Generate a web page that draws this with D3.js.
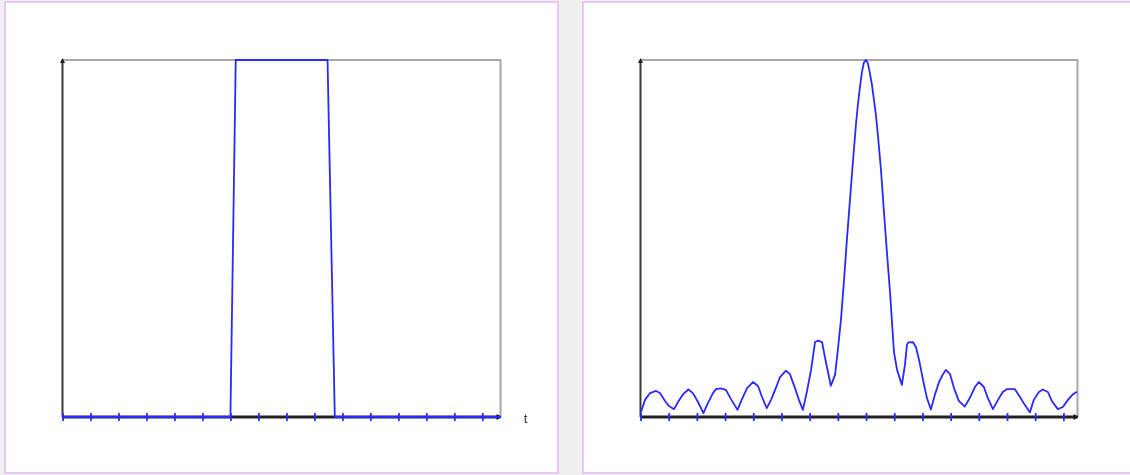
<!DOCTYPE html>
<html>
<head>
<meta charset="utf-8">
<script src="https://cdn.jsdelivr.net/npm/d3@7"></script>
<style>
  body { margin: 0; background: #f0f0f0; }
  svg { display: block; }
</style>
</head>
<body>
<div id="graphic"></div>
<script>
// left panel: rectangular pulse over time t
var pulseT = [0, 6.0, 6.19, 9.47, 9.73, 15.65];
var pulseY = [0, 0, 1, 1, 0, 0];

// right panel: magnitude spectrum (normalised)
var specF = [0.02, 0.16, 0.34, 0.55, 0.69, 0.87, 1.01, 1.19, 1.33, 1.51,
  1.70, 1.86, 2.04, 2.23, 2.39, 2.57, 2.68, 2.85, 3.03, 3.21,
  3.44, 3.60, 3.78, 3.99, 4.17, 4.31, 4.48, 4.63, 4.80, 4.95,
  5.16, 5.30, 5.48, 5.62, 5.76, 5.90, 6.05, 6.19, 6.30, 6.44,
  6.54, 6.65, 6.75, 6.90, 7.00, 7.11, 7.22, 7.32, 7.43, 7.54,
  7.64, 7.71, 7.78, 7.85, 7.92, 7.99, 8.06, 8.13, 8.21, 8.28,
  8.35, 8.42, 8.53, 8.63, 8.74, 8.85, 8.92, 8.99, 9.10, 9.27,
  9.38, 9.45, 9.50, 9.66, 9.77, 9.88, 10.02, 10.16, 10.30, 10.44,
  10.59, 10.73, 10.83, 10.98, 11.12, 11.29, 11.50, 11.68, 11.86, 12.00,
  12.18, 12.32, 12.50, 12.68, 12.85, 12.99, 13.28, 13.46, 13.63, 13.81,
  13.95, 14.13, 14.27, 14.45, 14.59, 14.80, 14.98, 15.16, 15.34, 15.48];
var specY = [0.014, 0.048, 0.067, 0.073, 0.067, 0.045, 0.031, 0.022, 0.042, 0.064,
  0.077, 0.067, 0.042, 0.011, 0.039, 0.067, 0.078, 0.080, 0.076, 0.050,
  0.020, 0.050, 0.081, 0.098, 0.087, 0.056, 0.025, 0.048, 0.081, 0.112,
  0.130, 0.120, 0.081, 0.048, 0.020, 0.070, 0.132, 0.210, 0.214, 0.210,
  0.168, 0.126, 0.087, 0.118, 0.188, 0.272, 0.384, 0.496, 0.608, 0.720,
  0.818, 0.874, 0.922, 0.964, 0.992, 1.000, 0.992, 0.966, 0.930, 0.888,
  0.846, 0.790, 0.692, 0.580, 0.462, 0.350, 0.266, 0.182, 0.132, 0.090,
  0.146, 0.202, 0.209, 0.210, 0.196, 0.160, 0.104, 0.053, 0.021, 0.062,
  0.098, 0.120, 0.132, 0.120, 0.081, 0.045, 0.029, 0.053, 0.084, 0.098,
  0.084, 0.053, 0.022, 0.048, 0.070, 0.078, 0.078, 0.056, 0.034, 0.013,
  0.048, 0.070, 0.077, 0.070, 0.045, 0.022, 0.028, 0.048, 0.064, 0.071];

var tickValues = [0, 1, 2, 3, 4, 5, 6, 7, 8, 9, 10, 11, 12, 13, 14, 15];

var width = 1130,
    height = 475;

var svg = d3.select("#graphic")
    .append("svg")
    .attr("width", width)
    .attr("height", height);

var blue = "#2a2aff";

function panel(opts) {
  svg.append("rect")
      .attr("x", opts.px)
      .attr("y", 2)
      .attr("width", opts.pw)
      .attr("height", 471)
      .attr("fill", "#fff")
      .attr("stroke", "#eac6f4")
      .attr("stroke-width", 2);

  var x = d3.scaleLinear()
      .domain([0, opts.xmax])
      .range([opts.left, opts.right]);

  var y = d3.scaleLinear()
      .domain([0, 1])
      .range([417, 60]);

  var g = svg.append("g");

  // grey frame (top + right)
  g.append("path")
      .attr("d", "M" + x.range()[0] + "," + y(1) + "H" + x.range()[1] + "V" + y(0))
      .attr("fill", "none")
      .attr("stroke", "#a8a8a8")
      .attr("stroke-width", 2);

  // y axis
  g.append("line")
      .attr("x1", x(0)).attr("x2", x(0))
      .attr("y1", y(0)).attr("y2", y(1))
      .attr("stroke", "#3a3a3a")
      .attr("stroke-width", 2);
  g.append("path")
      .attr("d", "M" + (x(0) - 2.5) + "," + (y(1) + 3) + "L" + x(0) + "," + (y(1) - 2) + "L" + (x(0) + 2.5) + "," + (y(1) + 3) + "Z")
      .attr("fill", "#222");

  // x axis
  g.append("line")
      .attr("x1", x.range()[0]).attr("x2", x.range()[1])
      .attr("y1", y(0)).attr("y2", y(0))
      .attr("stroke", "#222")
      .attr("stroke-width", 2.8);
  g.append("path")
      .attr("d", "M" + (x.range()[1] - 4) + "," + (y(0) - 3) + "L" + (x.range()[1] + 1) + "," + y(0) + "L" + (x.range()[1] - 4) + "," + (y(0) + 3) + "Z")
      .attr("fill", "#111");

  var line = d3.line()
      .x(function(d) { return x(d[0]); })
      .y(function(d) { return y(d[1]); });

  g.append("path")
      .datum(d3.zip(opts.xs, opts.ys))
      .attr("d", line)
      .attr("fill", "none")
      .attr("stroke", blue)
      .attr("stroke-width", 1.8)
      .attr("stroke-linejoin", "round");

  var ax = g.append("g")
      .attr("transform", "translate(0," + (y(0) - 4) + ")")
      .call(d3.axisBottom(x)
        .tickValues(tickValues)
        .tickSize(8)
        .tickFormat(""));
  ax.select(".domain").remove();
  ax.selectAll(".tick line")
      .attr("stroke", blue)
      .attr("stroke-width", 1.8);

  if (opts.label) {
    g.append("text")
        .attr("x", x.range()[1] + 25)
        .attr("y", y(0) + 6)
        .attr("font-family", "Liberation Sans, Arial, sans-serif")
        .attr("font-size", 13)
        .attr("fill", "#333")
        .attr("text-anchor", "middle")
        .text(opts.label);
  }
}

panel({px: 5, pw: 553, left: 62.5, right: 500.5, xmax: 15.65,
       xs: pulseT, ys: pulseY, label: "t"});
panel({px: 583, pw: 560, left: 640.5, right: 1077.5, xmax: 15.5,
       xs: specF, ys: specY, label: null});
</script>
</body>
</html>
